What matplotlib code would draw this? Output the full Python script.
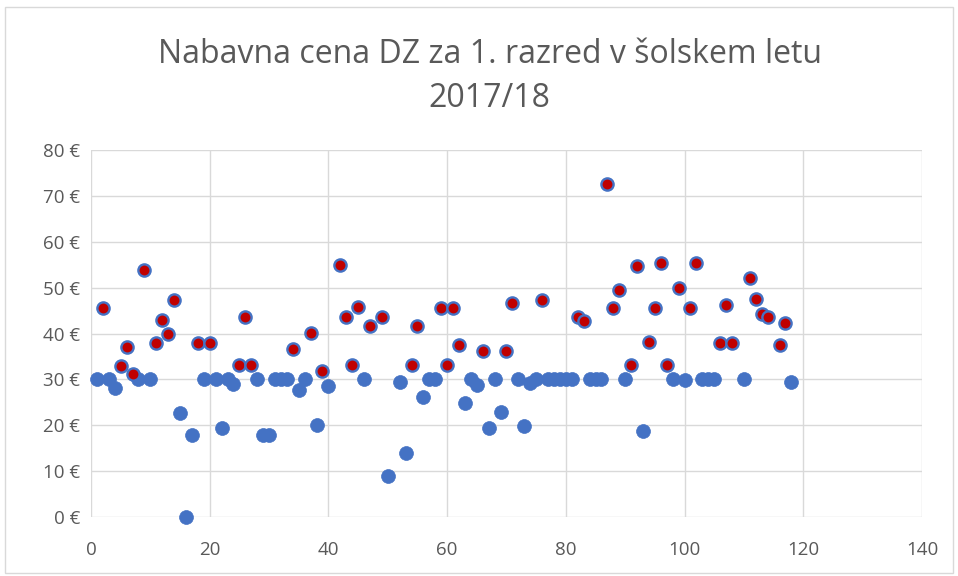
import matplotlib
matplotlib.use("Agg")
import matplotlib.pyplot as plt
from matplotlib.patches import Rectangle
from matplotlib.ticker import FuncFormatter

# zaporedna številka šole in nabavna cena DZ (€), odčitano s slike
school = [1, 2, 3, 4, 5, 6, 7, 8, 9, 10,
          11, 12, 13, 14, 15, 16, 17, 18, 19, 20,
          21, 22, 23, 24, 25, 26, 27, 28, 29, 30,
          31, 32, 33, 34, 35, 36, 37, 38, 39, 40,
          42, 43, 44, 45, 46, 47, 49, 50,
          52, 53, 54, 55, 56, 57, 58, 59, 60,
          61, 62, 63, 64, 65, 66, 67, 68, 69, 70,
          71, 72, 73, 74, 75, 76, 77, 78, 79, 80,
          81, 82, 83, 84, 85, 86, 87, 88, 89, 90,
          91, 92, 93, 94, 95, 96, 97, 98, 99, 100,
          101, 102, 103, 104, 105, 106, 107, 108, 110,
          111, 112, 113, 114, 116, 117, 118]
price = [30.0, 45.5, 30.0, 28.1, 33.0, 37.0, 31.2, 30.0, 53.9, 30.0,
         37.9, 43.0, 39.9, 47.3, 22.7, 0.0, 17.9, 38.0, 30.0, 38.0,
         30.0, 19.4, 30.0, 29.0, 33.2, 43.7, 33.2, 30.0, 17.9, 17.9,
         30.0, 30.0, 30.0, 36.7, 27.6, 30.0, 40.1, 20.1, 31.9, 28.6,
         55.0, 43.7, 33.1, 45.7, 30.0, 41.7, 43.7, 8.9,
         29.5, 13.9, 33.1, 41.7, 26.1, 30.0, 30.0, 45.5, 33.1,
         45.5, 37.5, 24.8, 30.0, 28.8, 36.2, 19.3, 30.0, 22.8, 36.2,
         46.6, 30.0, 19.9, 29.2, 30.0, 47.3, 30.0, 30.0, 30.0, 30.0,
         30.0, 43.7, 42.8, 30.0, 30.0, 30.0, 72.5, 45.5, 49.5, 30.0,
         33.1, 54.7, 18.7, 38.2, 45.5, 55.3, 33.1, 30.0, 49.9, 29.8,
         45.5, 55.3, 30.0, 30.0, 30.0, 38.0, 46.3, 38.0, 30.0,
         52.1, 47.5, 44.2, 43.7, 37.5, 42.3, 29.5]
limit = 30.0  # nad to ceno je točka obarvana rdeče

title = "Nabavna cena DZ za 1. razred v šolskem letu\n2017/18"
x_ticks = [0, 20, 40, 60, 80, 100, 120, 140]
y_ticks = [0, 10, 20, 30, 40, 50, 60, 70, 80]

blue = "#4472C4"
red = "#C00000"
grey = "#595959"

plt.rcParams["font.family"] = ["Open Sans", "DejaVu Sans"]

fig = plt.figure(figsize=(9.58, 5.76), dpi=100)
ax = fig.add_axes([0.095, 0.1024, 0.8674, 0.6372])

lo_x = [s for s, p in zip(school, price) if p <= limit]
lo_y = [p for p in price if p <= limit]
hi_x = [s for s, p in zip(school, price) if p > limit]
hi_y = [p for p in price if p > limit]

ax.plot(lo_x, lo_y, "o", ms=10, mfc=blue, mec=blue, mew=0.5,
        clip_on=False, zorder=3)
ax.plot(hi_x, hi_y, "o", ms=8.8, mfc=red, mec=blue, mew=1.7,
        clip_on=False, zorder=4)

ax.set_xlim(0, 140)
ax.set_ylim(0, 80)
ax.set_xticks(x_ticks)
ax.set_yticks(y_ticks)
ax.yaxis.set_major_formatter(FuncFormatter(lambda v, _: f"{v:.0f} €"))
ax.grid(True, color="#D9D9D9", linewidth=1.0)
ax.set_axisbelow(True)
for s in ax.spines.values():
    s.set_visible(False)
ax.tick_params(length=0, labelsize=13.5, labelcolor=grey)
ax.tick_params(axis="y", pad=8)
ax.tick_params(axis="x", pad=17)

fig.text(0.511, 0.867, title, ha="center", va="center", fontsize=23,
         color=grey, linespacing=1.45)

fig.patches.append(Rectangle((0.005, 0.005), 0.99, 0.982, transform=fig.transFigure,
                             fill=False, edgecolor="#D9D9D9", linewidth=1.0))

fig.savefig("out.png", dpi=100)
